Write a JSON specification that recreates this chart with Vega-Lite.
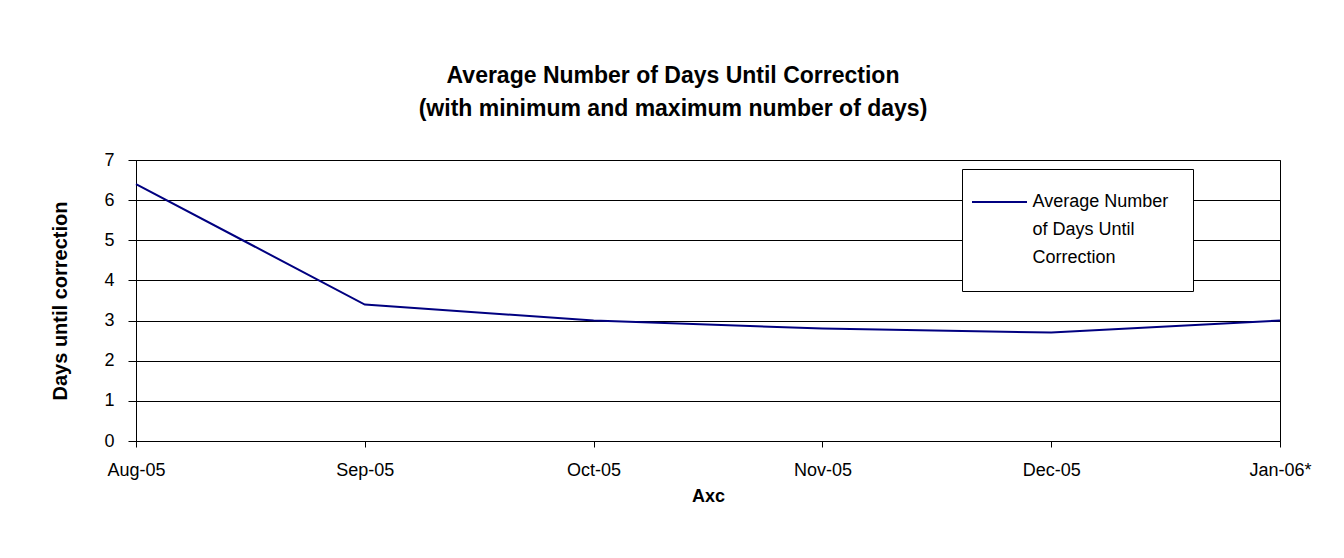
{
  "$schema": "https://vega.github.io/schema/vega-lite/v6.json",
  "width": 1144,
  "height": 281,
  "autosize": {"type": "none"},
  "padding": {"left": 136, "top": 160, "right": 64, "bottom": 117},
  "background": "white",
  "title": {
    "text": ["Average Number of Days Until Correction", "(with minimum and maximum number of days)"],
    "font": "Liberation Sans",
    "fontSize": 23,
    "fontWeight": "bold",
    "color": "black",
    "lineHeight": 33,
    "anchor": "middle",
    "frame": "group",
    "dx": -35,
    "offset": 30
  },
  "data": {
    "values": [
      {"month": "Aug-05", "days": 6.4, "series": "Average Number of Days Until Correction"},
      {"month": "Sep-05", "days": 3.4, "series": "Average Number of Days Until Correction"},
      {"month": "Oct-05", "days": 3.0, "series": "Average Number of Days Until Correction"},
      {"month": "Nov-05", "days": 2.8, "series": "Average Number of Days Until Correction"},
      {"month": "Dec-05", "days": 2.7, "series": "Average Number of Days Until Correction"},
      {"month": "Jan-06*", "days": 3.0, "series": "Average Number of Days Until Correction"}
    ]
  },
  "mark": {"type": "line", "strokeWidth": 2},
  "encoding": {
    "x": {
      "field": "month",
      "type": "ordinal",
      "sort": null,
      "scale": {"type": "point", "padding": 0},
      "axis": {
        "title": "Axc",
        "labelAngle": 0,
        "labelFontSize": 18,
        "labelPadding": 14,
        "tickSize": 6,
        "titleFontSize": 18,
        "titlePadding": 8
      }
    },
    "y": {
      "field": "days",
      "type": "quantitative",
      "scale": {"domain": [0, 7], "nice": false},
      "axis": {
        "title": "Days until correction",
        "values": [0, 1, 2, 3, 4, 5, 6, 7],
        "labelFontSize": 18,
        "labelPadding": 14,
        "tickSize": 8,
        "grid": true,
        "titleFontSize": 20,
        "titlePadding": 33
      }
    },
    "color": {
      "field": "series",
      "type": "nominal",
      "scale": {"range": ["#000080"]},
      "legend": {
        "title": null,
        "orient": "none",
        "legendX": 826,
        "legendY": 9,
        "strokeColor": "black",
        "fillColor": "white",
        "padding": 24,
        "symbolType": "M-5.5,0L5.5,0",
        "symbolSize": 100,
        "symbolOffset": 4.5,
        "symbolStrokeWidth": 2,
        "symbolFillColor": "transparent",
        "labelFontSize": 18,
        "labelFont": "Liberation Sans",
        "labelColor": "black",
        "labelOffset": 24,
        "labelLimit": 400,
        "labelExpr": "['Average Number', 'of Days Until', 'Correction']"
      }
    }
  },
  "config": {
    "font": "Liberation Sans",
    "view": {"stroke": "black", "strokeWidth": 1},
    "axis": {
      "domainColor": "black",
      "tickColor": "black",
      "gridColor": "black",
      "gridOpacity": 1,
      "labelColor": "black",
      "titleColor": "black",
      "labelFont": "Liberation Sans",
      "titleFont": "Liberation Sans",
      "titleFontWeight": "bold"
    },
    "axisX": {"grid": false},
    "style": {"guide-label": {"lineHeight": 28}}
  }
}
